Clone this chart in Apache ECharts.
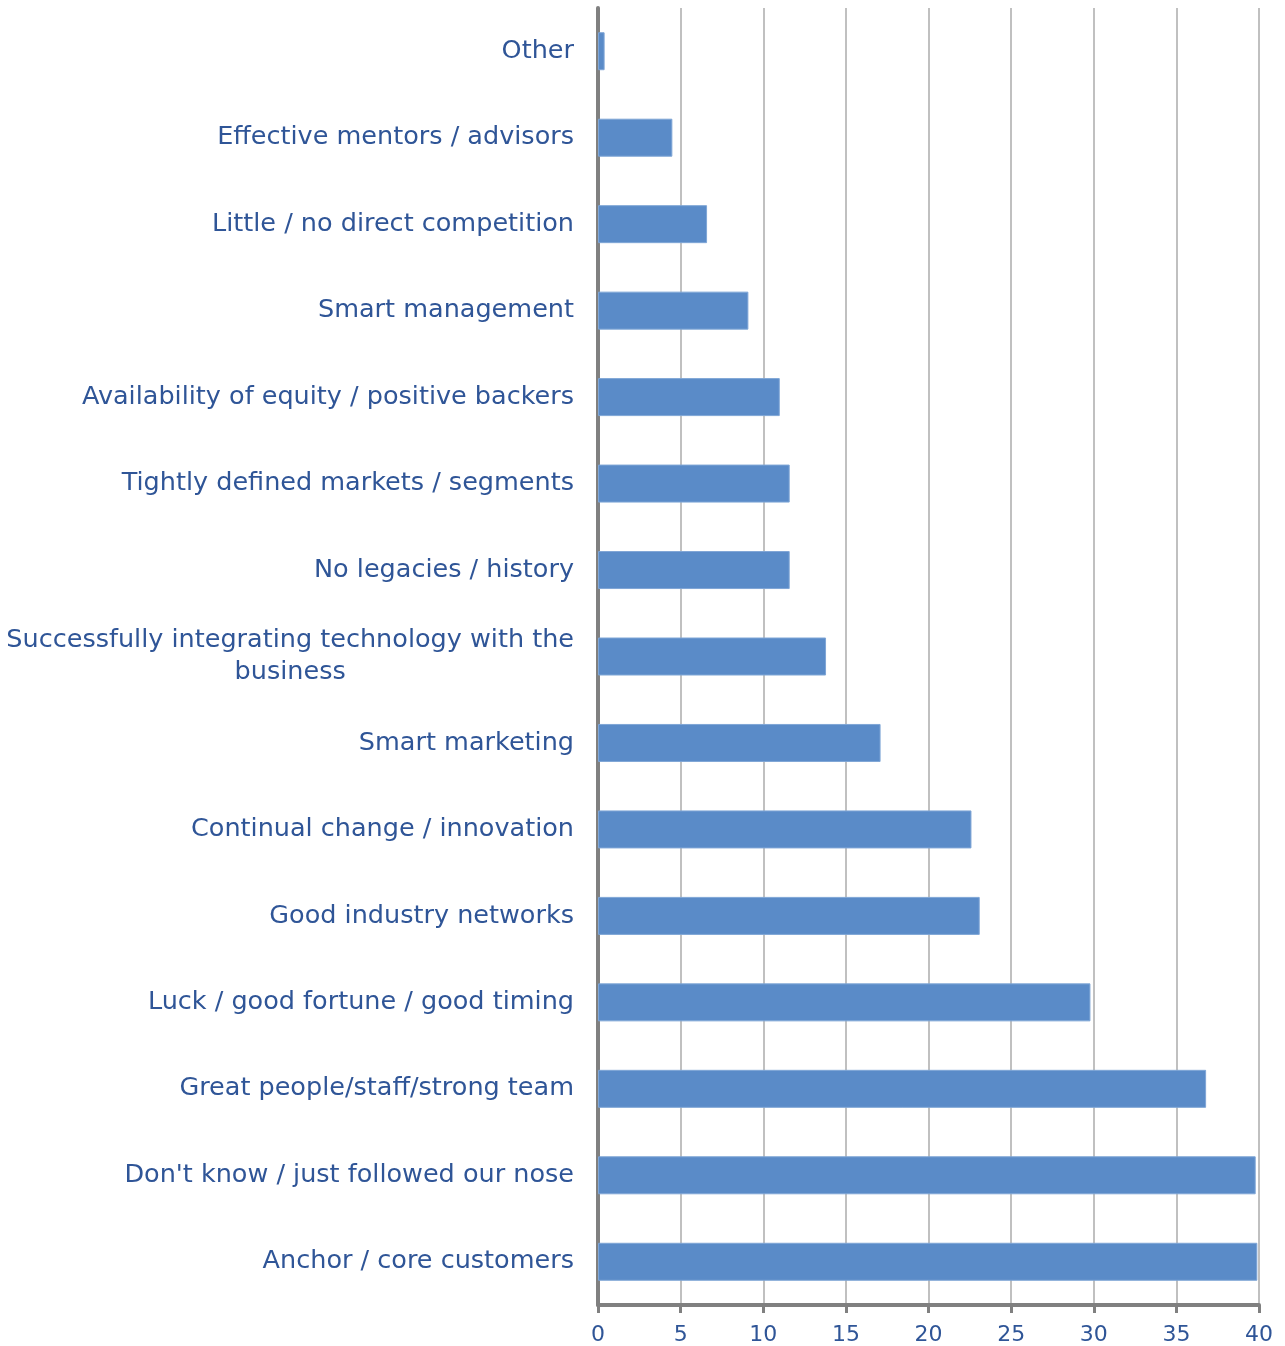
<!DOCTYPE html>
<html>
<head>
<meta charset="utf-8">
<script src="https://cdn.jsdelivr.net/npm/echarts@6/dist/echarts.min.js"></script>
<style>
  html, body { margin: 0; padding: 0; background: #ffffff; }
  #chart { width: 1285px; height: 1346px; }
</style>
</head>
<body>
<div id="chart"></div>
<script>
// Success factors, listed top to bottom
var categories = [
  'Other',
  'Effective mentors / advisors',
  'Little / no direct competition',
  'Smart management',
  'Availability of equity / positive backers',
  'Tightly defined markets / segments',
  'No legacies / history',
  'Successfully integrating technology with the business',
  'Smart marketing',
  'Continual change / innovation',
  'Good industry networks',
  'Luck / good fortune / good timing',
  'Great people/staff/strong team',
  "Don't know / just followed our nose",
  'Anchor / core customers'
];

var values = [0.4, 4.5, 6.6, 9.1, 11.0, 11.6, 11.6, 13.8, 17.1, 22.6, 23.1, 29.8, 36.8, 39.8, 39.9];

var xTicks = { min: 0, max: 40, interval: 5 };

var labelColor = '#2f5597';
var fontFamily = '"DejaVu Sans", sans-serif';

var chart = echarts.init(document.getElementById('chart'), null, { renderer: 'canvas' });

chart.setOption({
  animation: false,
  backgroundColor: '#ffffff',
  grid: { left: 598, right: 26, top: 8, bottom: 41, containLabel: false },
  xAxis: {
    type: 'value',
    min: xTicks.min,
    max: xTicks.max,
    interval: xTicks.interval,
    axisLine: { show: true, lineStyle: { color: '#808080', width: 4 } },
    axisTick: { show: true, length: 8, lineStyle: { color: '#808080', width: 3 } },
    splitLine: { show: true, lineStyle: { color: '#c0c0c0', width: 2 } },
    axisLabel: { color: labelColor, fontSize: 22, fontFamily: fontFamily, margin: 19 }
  },
  yAxis: {
    type: 'category',
    inverse: true,
    data: categories,
    axisLine: { show: true, onZero: false, lineStyle: { color: '#808080', width: 4 } },
    axisTick: { show: false },
    splitLine: { show: false },
    axisLabel: {
      color: labelColor,
      fontSize: 25.5,
      fontFamily: fontFamily,
      margin: 24,
      align: 'right',
      formatter: function (name) {
        if (name.length > 42) {
          var cut = name.lastIndexOf(' ', 44);
          return '{c|' + name.slice(0, cut) + '\n' + name.slice(cut + 1) + '}';
        }
        return name;
      },
      rich: {
        c: { align: 'center', color: labelColor, fontSize: 25.5, fontFamily: fontFamily, lineHeight: 32 }
      }
    }
  },
  series: [{
    type: 'bar',
    data: values,
    barWidth: 38,
    itemStyle: { color: '#5a8bc8', borderColor: '#7fa6d6', borderWidth: 1 }
  }]
});
</script>
</body>
</html>
